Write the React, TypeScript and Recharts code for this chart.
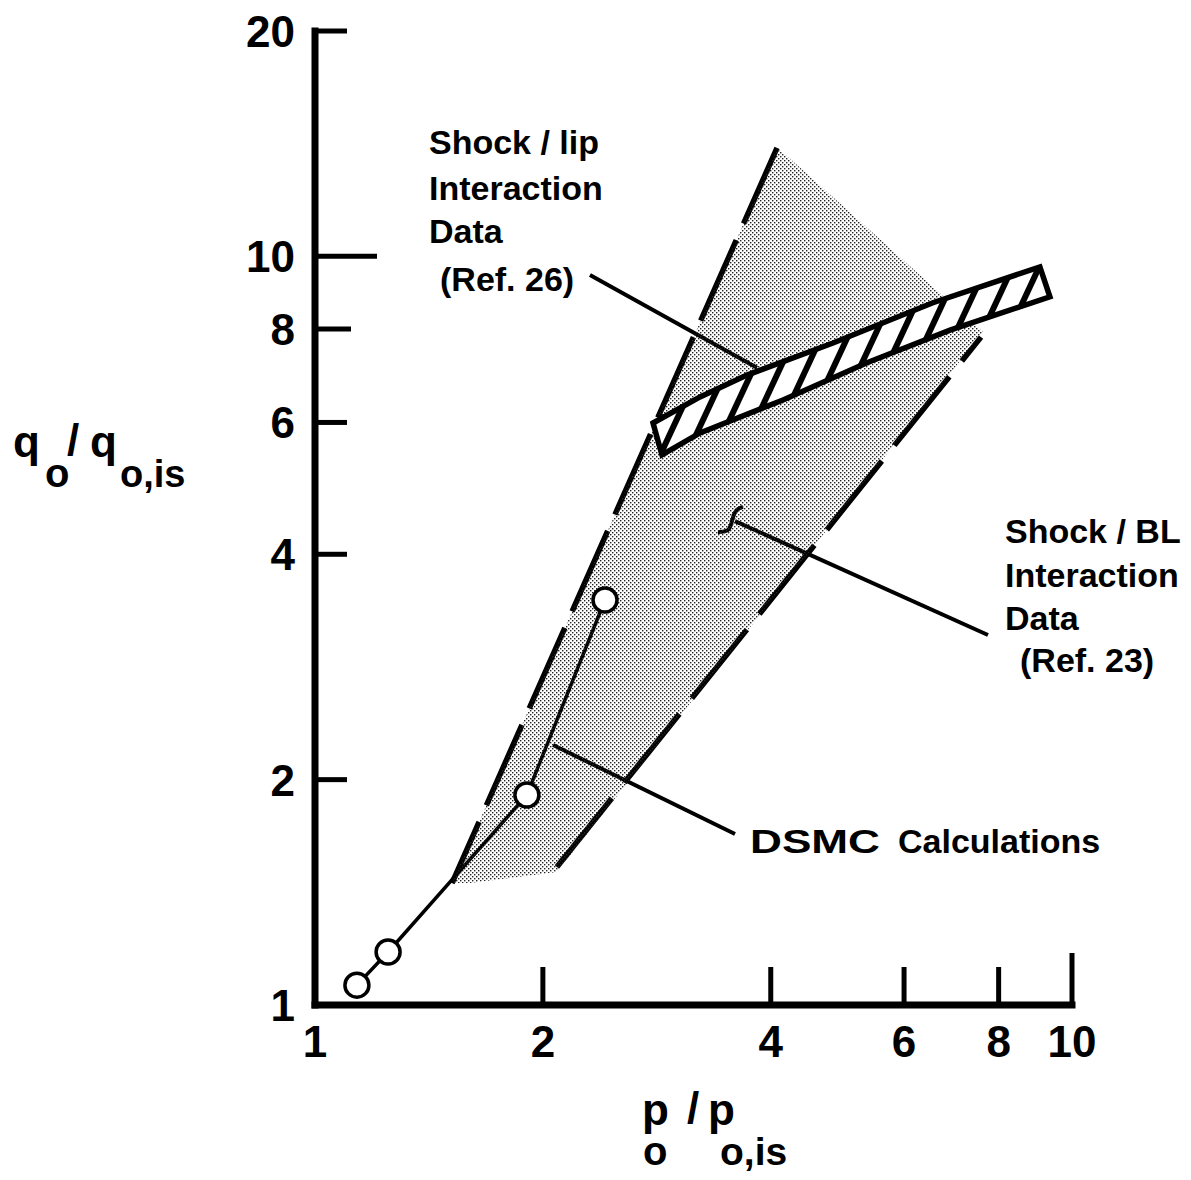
import React from 'react';
import { ComposedChart, Line, XAxis, YAxis } from 'recharts';

// axis ticks (log-log)
const xTicks = [1, 2, 4, 6, 8, 10];
const yTicks = [1, 2, 4, 6, 8, 10, 20];

// DSMC calculations (open circles)
const dsmcPoints = [
  { x: 1.136, y: 1.063 },
  { x: 1.249, y: 1.177 },
  { x: 1.905, y: 1.908 },
  { x: 2.416, y: 3.475 },
];

// Shock / BL interaction data: stippled region and its dashed bounds
const blRegion = [
  { x: 1.517, y: 1.455 },
  { x: 1.602, y: 1.455 },
  { x: 2.087, y: 1.505 },
  { x: 7.63, y: 7.93 },
  { x: 4.203, y: 13.62 },
  { x: 4.077, y: 13.96 },
];
const blUpper = [
  { x: 1.517, y: 1.455 },
  { x: 4.077, y: 13.96 },
];
const blLower = [
  { x: 2.087, y: 1.529 },
  { x: 7.583, y: 7.8 },
];

// Shock / lip interaction data: hatched band (top edge, then bottom edge back)
const lipBand = [
  { x: 2.796, y: 5.99 },
  { x: 3.226, y: 6.49 },
  { x: 3.721, y: 6.94 },
  { x: 4.834, y: 7.66 },
  { x: 6.55, y: 8.67 },
  { x: 9.07, y: 9.68 },
  { x: 9.35, y: 8.83 },
  { x: 6.9, y: 7.97 },
  { x: 5.36, y: 7.21 },
  { x: 4.152, y: 6.43 },
  { x: 3.226, y: 5.81 },
  { x: 2.873, y: 5.43 },
];

// label leader lines
const lipLeader = [
  { x: 2.308, y: 9.445 },
  { x: 3.836, y: 7.1 },
];
const blLeader = [
  { x: 3.588, y: 4.43 },
  { x: 7.745, y: 3.121 },
];
const blHook = [
  { x: 3.676, y: 4.627 },
  { x: 3.598, y: 4.57 },
  { x: 3.555, y: 4.43 },
  { x: 3.512, y: 4.31 },
  { x: 3.406, y: 4.283 },
];
const dsmcLeader = [
  { x: 2.063, y: 2.225 },
  { x: 3.588, y: 1.692 },
];

const FONT = '"Liberation Sans", Arial, Helvetica, sans-serif';
const W = 1175;
const H = 1164;

const xTickLen: Record<number, number> = { 1: 0, 2: 38, 4: 38, 6: 38, 8: 38, 10: 52 };
const yTickLen: Record<number, number> = { 1: 0, 2: 32, 4: 32, 6: 32, 8: 36, 10: 62, 20: 32 };

const renderXTick = ({ x, y, payload }: any) => {
  const len = xTickLen[payload.value] || 0;
  return (
    <g key={`xt-${payload.value}`}>
      {len > 0 && <line x1={x} y1={y} x2={x} y2={y - len} stroke="#000" strokeWidth={5} />}
      <text x={x} y={y + 52} textAnchor="middle" fontFamily={FONT} fontWeight="bold" fontSize={44} fill="#000">
        {payload.value}
      </text>
    </g>
  );
};

const renderYTick = ({ x, y, payload }: any) => {
  const len = yTickLen[payload.value] || 0;
  return (
    <g key={`yt-${payload.value}`}>
      {len > 0 && <line x1={x} y1={y} x2={x + len} y2={y} stroke="#000" strokeWidth={5} />}
      <text x={x - 20} y={y + 16} textAnchor="end" fontFamily={FONT} fontWeight="bold" fontSize={44} fill="#000">
        {payload.value}
      </text>
    </g>
  );
};

// draws the whole series as one filled polygon, using the points the Line computed
function polygonDot(count: number, style: React.SVGProps<SVGPolygonElement>) {
  let acc: string[] = [];
  return (props: any) => {
    const { index, cx, cy, points } = props;
    if (index === 0) acc = [];
    acc.push(`${cx},${cy}`);
    if (index !== count - 1) return <g key={`pd-${index}`} />;
    const pts =
      Array.isArray(points) && points.length === count
        ? points.map((p: any) => `${p.x},${p.y}`).join(' ')
        : acc.join(' ');
    return <polygon key="poly" points={pts} {...style} />;
  };
}

const App: React.FC = () => {
  const txt = { fontFamily: FONT, fontWeight: 'bold' as const, fill: '#000' };
  return (
    <div style={{ position: 'relative', width: W, height: H, background: '#fff' }}>
      <svg width={0} height={0} style={{ position: 'absolute' }}>
        <defs>
          <pattern id="stipple" patternUnits="userSpaceOnUse" width={4} height={4}>
            <rect x={0} y={0} width={1.4} height={1.4} fill="#222" />
            <rect x={2} y={2} width={1.4} height={1.4} fill="#222" />
          </pattern>
          <pattern id="hatch" patternUnits="userSpaceOnUse" width={24} height={24} patternTransform="rotate(25)">
            <rect x={0} y={0} width={24} height={24} fill="#fff" />
            <line x1={12} y1={0} x2={12} y2={24} stroke="#000" strokeWidth={6} />
          </pattern>
        </defs>
      </svg>

      <ComposedChart width={W} height={H} margin={{ top: 23, right: 111, bottom: 107, left: 247 }}>
        <XAxis
          dataKey="x"
          type="number"
          scale="log"
          domain={[1, 10]}
          ticks={xTicks}
          interval={0}
          height={60}
          tickSize={0}
          tickMargin={0}
          tickLine={false}
          tick={renderXTick}
          axisLine={{ stroke: '#000', strokeWidth: 7, strokeLinecap: 'square' }}
        />
        <YAxis
          dataKey="y"
          type="number"
          scale="log"
          domain={[1, 20]}
          ticks={yTicks}
          interval={0}
          width={60}
          tickSize={0}
          tickMargin={0}
          tickLine={false}
          tick={renderYTick}
          axisLine={{ stroke: '#000', strokeWidth: 7, strokeLinecap: 'square' }}
        />

        <Line
          data={blRegion}
          dataKey="y"
          type="linear"
          stroke="none"
          isAnimationActive={false}
          activeDot={false}
          dot={polygonDot(blRegion.length, { fill: 'url(#stipple)', stroke: 'none' })}
        />
        <Line
          data={lipBand}
          dataKey="y"
          type="linear"
          stroke="none"
          isAnimationActive={false}
          activeDot={false}
          dot={polygonDot(lipBand.length, {
            fill: 'url(#hatch)',
            stroke: '#000',
            strokeWidth: 5.5,
            strokeLinejoin: 'miter',
          })}
        />
        <Line
          data={blUpper}
          dataKey="y"
          type="linear"
          stroke="#000"
          strokeWidth={5.5}
          strokeDasharray="88 18"
          strokeDashoffset={21}
          dot={false}
          activeDot={false}
          isAnimationActive={false}
        />
        <Line
          data={blLower}
          dataKey="y"
          type="linear"
          stroke="#000"
          strokeWidth={5.5}
          strokeDasharray="88 20"
          dot={false}
          activeDot={false}
          isAnimationActive={false}
        />
        <Line
          data={lipLeader}
          dataKey="y"
          type="linear"
          stroke="#000"
          strokeWidth={4}
          dot={false}
          activeDot={false}
          isAnimationActive={false}
        />
        <Line
          data={blLeader}
          dataKey="y"
          type="linear"
          stroke="#000"
          strokeWidth={4}
          dot={false}
          activeDot={false}
          isAnimationActive={false}
        />
        <Line
          data={blHook}
          dataKey="y"
          type="natural"
          stroke="#000"
          strokeWidth={4}
          dot={false}
          activeDot={false}
          isAnimationActive={false}
        />
        <Line
          data={dsmcLeader}
          dataKey="y"
          type="linear"
          stroke="#000"
          strokeWidth={4}
          dot={false}
          activeDot={false}
          isAnimationActive={false}
        />
        <Line
          data={dsmcPoints}
          dataKey="y"
          type="linear"
          stroke="#000"
          strokeWidth={3.5}
          dot={{ r: 12, fill: '#fff', stroke: '#000', strokeWidth: 3.5 }}
          activeDot={false}
          isAnimationActive={false}
        />
      </ComposedChart>

      <svg width={W} height={H} style={{ position: 'absolute', left: 0, top: 0, pointerEvents: 'none' }}>
        {/* y-axis title */}
        <text {...txt} fontSize={44}>
          <tspan x={5} y={449}>q</tspan>
          <tspan x={37} y={479} fontSize={40}>o</tspan>
          <tspan x={59} y={447}>/</tspan>
          <tspan x={82} y={449}>q</tspan>
          <tspan x={112} y={479} fontSize={38}>o,is</tspan>
        </text>
        {/* x-axis title */}
        <text {...txt} fontSize={44}>
          <tspan x={634} y={1117}>p</tspan>
          <tspan x={635} y={1157} fontSize={40}>o</tspan>
          <tspan x={679} y={1115}>/</tspan>
          <tspan x={700} y={1117}>p</tspan>
          <tspan x={712} y={1157} fontSize={39}>o,is</tspan>
        </text>

        <text {...txt} fontSize={34}>
          <tspan x={421} y={146}>Shock / lip</tspan>
          <tspan x={421} y={192}>Interaction</tspan>
          <tspan x={421} y={235}>Data</tspan>
          <tspan x={432} y={283}>(Ref. 26)</tspan>
        </text>

        <text {...txt} fontSize={34}>
          <tspan x={997} y={535}>Shock / BL</tspan>
          <tspan x={997} y={579}>Interaction</tspan>
          <tspan x={997} y={622}>Data</tspan>
          <tspan x={1012} y={664}>(Ref. 23)</tspan>
        </text>

        <text {...txt} fontSize={34} x={742} y={845} textLength={130} lengthAdjust="spacingAndGlyphs">
          DSMC
        </text>
        <text {...txt} fontSize={34} x={890} y={845}>
          Calculations
        </text>
      </svg>
    </div>
  );
};

export default App;
